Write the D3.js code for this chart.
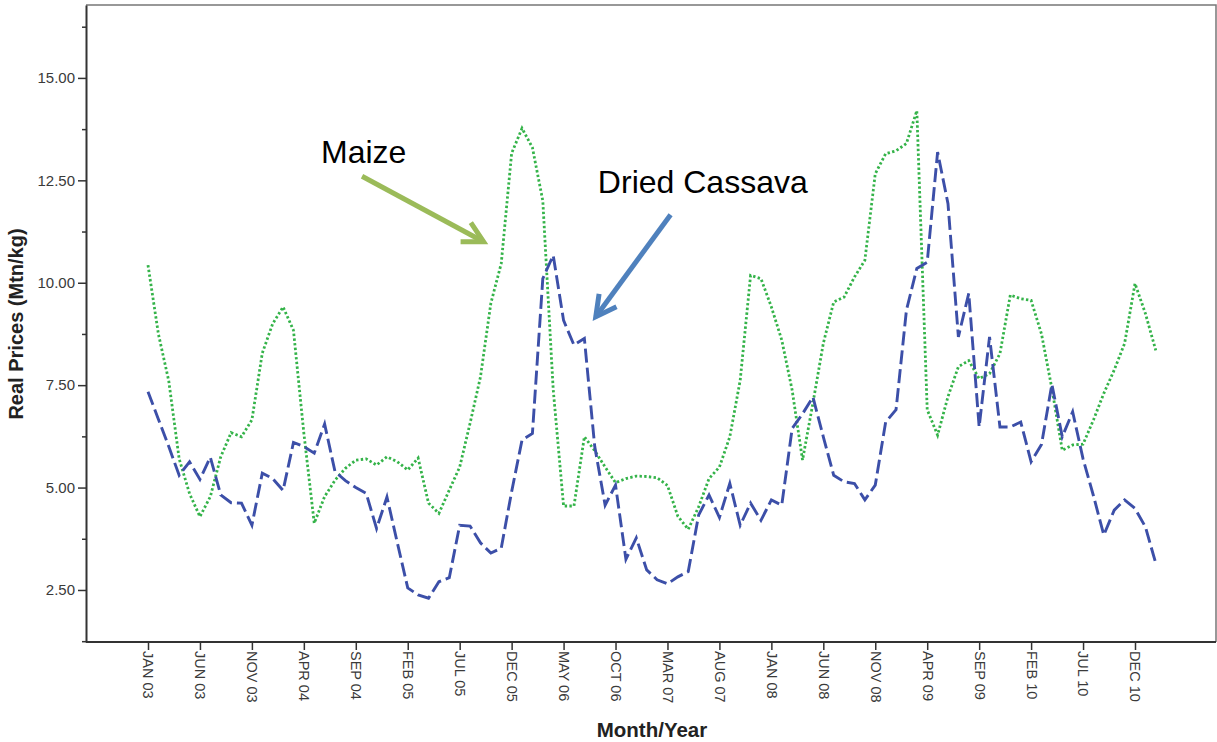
<!DOCTYPE html>
<html>
<head>
<meta charset="utf-8">
<script src="https://d3js.org/d3.v7.min.js"></script>
<style>
body { margin: 0; background: #fff; }
text { font-family: "Liberation Sans", Arial, sans-serif; }
</style>
</head>
<body>
<div class="chart"></div>
<script>
var width = 1217, height = 742;

// months run JAN 03 .. FEB 11, one value per month
var tickMonths = [0, 5, 10, 15, 20, 25, 30, 35, 40, 45, 50, 55, 60, 65, 70, 75, 80, 85, 90, 95];
var tickLabels = ["JAN 03", "JUN 03", "NOV 03", "APR 04", "SEP 04", "FEB 05", "JUL 05", "DEC 05",
                  "MAY 06", "OCT 06", "MAR 07", "AUG 07", "JAN 08", "JUN 08", "NOV 08", "APR 09",
                  "SEP 09", "FEB 10", "JUL 10", "DEC 10"];
var yTicks = [2.5, 5, 7.5, 10, 12.5, 15];
var yMinorTicks = [1.25, 3.75, 6.25, 8.75, 11.25, 13.75, 16.25];

var maize = [10.43, 8.75, 7.6, 5.7, 4.85, 4.29, 4.78, 5.75, 6.34, 6.24,
             6.65, 8.28, 9.0, 9.41, 8.84, 6.33, 4.13, 4.78, 5.18, 5.47,
             5.67, 5.7, 5.55, 5.75, 5.63, 5.43, 5.72, 4.62, 4.37, 4.94,
             5.5, 6.57, 7.7, 9.5, 10.47, 13.16, 13.77, 13.3, 12.0, 7.4,
             4.55, 4.55, 6.24, 5.9, 5.5, 5.12, 5.22, 5.28, 5.27, 5.24,
             5.05, 4.3, 3.98, 4.53, 5.22, 5.5, 6.24, 7.62, 10.18, 10.1,
             9.41, 8.6, 7.38, 5.67, 7.06, 8.52, 9.53, 9.65, 10.14, 10.55,
             12.66, 13.15, 13.22, 13.4, 14.2, 6.9, 6.28, 7.22, 7.95, 8.1,
             7.66, 7.78, 8.27, 9.7, 9.61, 9.57, 8.75, 7.42, 5.91, 6.04,
             6.06, 6.65, 7.3, 7.87, 8.52, 9.98, 9.25, 8.35];

var cassava = [7.34, 6.67, 6.0, 5.3, 5.63, 5.2, 5.74, 4.82, 4.63, 4.62,
               4.08, 5.35, 5.22, 4.93, 6.1, 6.0, 5.84, 6.55, 5.39, 5.17,
               5.0, 4.86, 4.0, 4.77, 3.65, 2.55, 2.38, 2.3, 2.7, 2.8,
               4.08, 4.06, 3.65, 3.4, 3.52, 4.9, 6.16, 6.32, 10.1, 10.67,
               9.08, 8.48, 8.64, 6.0, 4.57, 5.06, 3.25, 3.77, 2.99, 2.75,
               2.65, 2.82, 2.95, 4.33, 4.82, 4.27, 5.1, 4.08, 4.62, 4.2,
               4.7, 4.57, 6.44, 6.8, 7.21, 6.24, 5.3, 5.14, 5.1, 4.7,
               5.06, 6.6, 6.9, 9.33, 10.35, 10.5, 13.19, 11.93, 8.68, 9.74,
               6.48, 8.68, 6.48, 6.48, 6.6, 5.63, 6.05, 7.52, 6.24, 6.85,
               5.7, 4.8, 3.84, 4.45, 4.7, 4.49, 4.04, 3.15];

// annotations, placed in data units (month index, price)
var notes = [
  {label: "Maize", color: "#9bbb59", tx: 16.65, ty: 12.93, from: [20.6, 12.6], to: [32.3, 11.0]},
  {label: "Dried Cassava", color: "#4f81bd", tx: 43.3, ty: 12.2, from: [50.3, 11.66], to: [43.1, 9.17]}
];

var plotLeft = 86, plotRight = 1216, plotTop = 5, plotBottom = 642;

var x = d3.scaleLinear().domain([0, 95]).range([148, 1135]);
var y = d3.scaleLinear().domain([1.23, 16.78]).range([plotBottom, plotTop]);

var svg = d3.select(".chart")
        .append("svg")
        .attr("width", width)
        .attr("height", height);

// frame top / right
svg.append("path")
    .attr("d", "M" + plotLeft + "," + plotTop + "H" + plotRight + "V" + plotBottom)
    .attr("fill", "none")
    .attr("stroke", "#777")
    .attr("stroke-width", 1.5);

// y axis
var yAxis = svg.append("g")
    .attr("transform", "translate(" + plotLeft + ",0)")
    .call(d3.axisLeft(y).tickValues(yTicks).tickSize(8).tickSizeOuter(0).tickPadding(3)
        .tickFormat(d3.format(".2f")));
yAxis.selectAll("text").attr("font-size", 15).attr("fill", "#3a3a3a").attr("font-family", null);

svg.append("g")
    .attr("transform", "translate(" + plotLeft + ",0)")
    .call(d3.axisLeft(y).tickValues(yMinorTicks).tickSize(4).tickSizeOuter(0).tickFormat(""))
    .select(".domain").remove();

// x axis
var xAxis = svg.append("g")
    .attr("transform", "translate(0," + plotBottom + ")")
    .call(d3.axisBottom(x).tickValues(tickMonths).tickSize(8)
        .tickFormat(function(d, i) { return tickLabels[i]; }));
xAxis.select(".domain").remove();
xAxis.selectAll("text")
    .attr("font-size", 14.5)
    .attr("fill", "#3a3a3a")
    .attr("font-family", null)
    .attr("text-anchor", "start")
    .attr("transform", "translate(0,9) rotate(90)")
    .attr("x", 0)
    .attr("y", 0)
    .attr("dy", "0.35em");

svg.append("line")
    .attr("x1", plotLeft).attr("x2", plotRight)
    .attr("y1", plotBottom).attr("y2", plotBottom)
    .attr("stroke", "#333")
    .attr("stroke-width", 2);

svg.selectAll(".tick line").attr("stroke", "#333").attr("stroke-width", 1.5);
yAxis.select(".domain").attr("stroke", "#333").attr("stroke-width", 2);

// series
var line = d3.line()
    .x(function(d, i) { return x(i); })
    .y(function(d) { return y(d); });

svg.append("path")
    .datum(maize)
    .attr("d", line)
    .attr("fill", "none")
    .attr("stroke", "#34b349")
    .attr("stroke-width", 2.8)
    .attr("stroke-dasharray", "2.4,2.3");

svg.append("path")
    .datum(cassava)
    .attr("d", line)
    .attr("fill", "none")
    .attr("stroke", "#3c4fa8")
    .attr("stroke-width", 2.9)
    .attr("stroke-dasharray", "14,5");

// axis titles
svg.append("text")
    .attr("x", 652)
    .attr("y", 737)
    .attr("text-anchor", "middle")
    .attr("font-size", 20.5)
    .attr("font-weight", "bold")
    .attr("fill", "#222")
    .text("Month/Year");

svg.append("text")
    .attr("transform", "translate(23,324) rotate(-90)")
    .attr("text-anchor", "middle")
    .attr("font-size", 20)
    .attr("font-weight", "bold")
    .attr("fill", "#222")
    .text("Real Prices (Mtn/kg)");

// annotations
var note = svg.selectAll(".note")
    .data(notes)
    .enter().append("g")
        .attr("class", "note");

note.append("text")
    .attr("x", function(d) { return x(d.tx); })
    .attr("y", function(d) { return y(d.ty); })
    .attr("font-size", 32)
    .attr("fill", "#000")
    .text(function(d) { return d.label; });

note.append("line")
    .attr("x1", function(d) { return x(d.from[0]); })
    .attr("y1", function(d) { return y(d.from[1]); })
    .attr("x2", function(d) { return x(d.to[0]); })
    .attr("y2", function(d) { return y(d.to[1]); })
    .attr("stroke", function(d) { return d.color; })
    .attr("stroke-width", 5);

note.append("path")
    .attr("d", function(d) {
      var x0 = x(d.from[0]), y0 = y(d.from[1]), x1 = x(d.to[0]), y1 = y(d.to[1]);
      var back = Math.atan2(y0 - y1, x0 - x1), len = 23, spread = 28 * Math.PI / 180;
      return "M" + (x1 + len * Math.cos(back - spread)) + "," + (y1 + len * Math.sin(back - spread)) +
             "L" + x1 + "," + y1 +
             "L" + (x1 + len * Math.cos(back + spread)) + "," + (y1 + len * Math.sin(back + spread));
    })
    .attr("fill", "none")
    .attr("stroke", function(d) { return d.color; })
    .attr("stroke-width", 5)
    .attr("stroke-linejoin", "miter");
</script>
</body>
</html>
